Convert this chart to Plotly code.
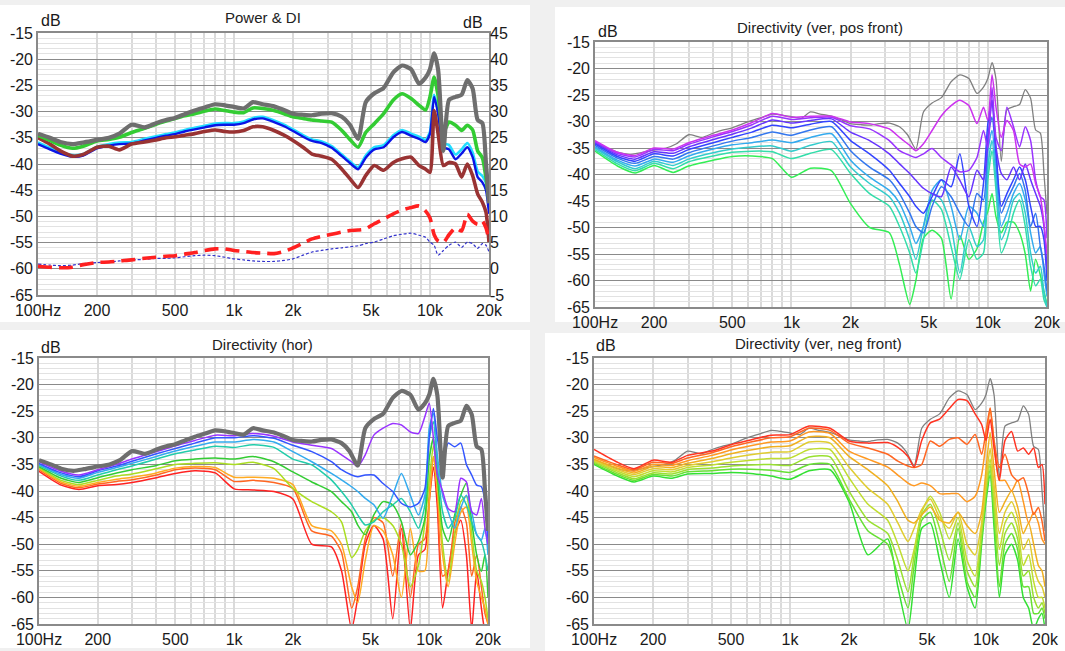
import math
import plotly.graph_objects as go

# ---------------- data ----------------
# frequency grid for Power & DI panel (Hz)
F = [100, 115, 130, 150, 170, 200, 230, 260, 300, 350, 400, 450, 500, 560, 630, 710, 800, 900,
     1000, 1120, 1250, 1400, 1600, 1800, 2000, 2250, 2500, 2800, 3150, 3550, 3900, 4300, 4700,
     5200, 5800, 6500, 7200, 8000, 8800, 9500, 10000, 10500, 11000, 11700, 12500, 13500, 14500,
     15500, 16500, 17500, 18500, 19300, 20000]

ON = [-34.2, -35.0, -35.8, -36.2, -35.9, -35.4, -35.0, -34.2, -32.5, -33.0, -32.2, -31.6, -31.2, -30.5,
      -29.8, -29.2, -28.6, -28.8, -29.1, -29.4, -28.2, -28.6, -29.0, -29.7, -30.4, -30.6, -30.7, -30.4,
      -30.3, -31.0, -32.5, -35.2, -28.2, -26.5, -25.5, -22.5, -21.2, -21.9, -24.7, -23.5, -21.9, -18.9,
      -22.0, -37.5, -27.8, -27.2, -26.8, -24.0, -25.6, -31.6, -32.2, -39.8, -47.5]
LW = [-34.5, -35.5, -36.4, -37.0, -36.6, -35.6, -35.3, -34.9, -34.0, -33.2, -32.4, -31.8, -31.3, -30.8,
      -30.4, -29.9, -29.5, -29.8, -30.1, -30.2, -29.3, -29.4, -29.8, -30.4, -31.0, -31.3, -31.6, -31.8,
      -32.0, -33.6, -35.3, -36.8, -34.0, -32.3, -30.4, -27.8, -26.6, -27.5, -28.8, -29.7, -27.2, -23.4,
      -27.0, -34.0, -32.0, -32.6, -33.6, -32.6, -33.5, -37.5, -38.8, -42.6, -47.0]
ER = [-36.2, -37.2, -38.0, -38.6, -38.4, -37.0, -36.5, -36.2, -36.1, -35.5, -35.0, -34.6, -34.3, -33.8,
      -33.4, -33.0, -32.6, -32.5, -32.5, -32.2, -31.5, -31.3, -32.0, -32.8, -33.7, -34.8, -35.6, -36.0,
      -36.9, -38.5, -39.8, -41.0, -38.8, -37.2, -36.8, -34.9, -33.9, -34.6, -35.2, -35.8, -34.2, -27.2,
      -30.4, -36.8, -37.2, -39.1, -38.0, -36.8, -38.7, -42.5, -43.5, -45.0, -49.5]
PIR = [-35.9, -36.9, -37.7, -38.3, -38.1, -36.7, -36.2, -35.9, -35.8, -35.2, -34.7, -34.3, -34.0, -33.5,
       -33.1, -32.7, -32.3, -32.2, -32.2, -31.9, -31.2, -31.0, -31.7, -32.5, -33.4, -34.5, -35.3, -35.7,
       -36.6, -38.2, -39.5, -40.6, -38.4, -36.8, -36.4, -34.5, -33.5, -34.2, -34.8, -35.4, -33.8, -26.8,
       -29.9, -36.0, -36.4, -38.2, -37.2, -36.0, -37.8, -41.4, -42.3, -43.6, -46.0]
SP = [-35.0, -36.2, -37.5, -38.5, -38.2, -36.8, -36.6, -37.3, -36.2, -35.8, -35.4, -35.0, -34.8, -34.5,
      -34.2, -33.8, -33.5, -33.8, -33.9, -33.6, -32.9, -32.9, -33.6, -34.5, -35.5, -36.8, -38.1, -38.5,
      -39.1, -41.0, -42.8, -44.5, -42.2, -40.3, -41.2, -39.7, -39.0, -38.7, -40.3, -41.0, -41.6, -29.8,
      -34.2, -40.3, -39.7, -40.0, -42.5, -40.0, -42.2, -45.7, -47.3, -49.2, -54.9]
DI = [0.5, 0.3, 0.2, 0.3, 0.8, 1.2, 1.3, 1.5, 1.7, 2.0, 2.2, 2.4, 2.5, 2.8, 3.1, 3.5, 3.8, 3.8, 3.5, 3.3,
      3.1, 3.0, 2.9, 3.3, 4.0, 4.9, 5.7, 6.2, 6.6, 7.0, 7.3, 7.4, 7.6, 8.6, 9.5, 10.5, 11.2, 11.7, 12.0,
      11.0, 9.7, 6.5, 5.3, 5.0, 6.5, 7.8, 7.2, 10.4, 9.1, 8.5, 9.1, 7.8, 5.5]
ERDI = [0.9, 0.7, 0.6, 0.7, 1.0, 1.2, 1.3, 1.5, 1.7, 1.8, 2.0, 2.0, 2.1, 2.3, 2.5, 2.6, 2.5, 2.2, 1.9,
        1.7, 1.5, 1.4, 1.4, 1.6, 1.9, 2.6, 3.2, 3.5, 3.8, 4.0, 4.2, 4.4, 4.8, 5.1, 5.7, 6.3, 6.6, 6.8,
        6.4, 6.0, 5.1, 4.5, 2.6, 3.5, 4.5, 5.1, 4.1, 5.1, 4.8, 3.9, 4.8, 4.5, 3.2]

# frequency grid for directivity panels (Hz)
F2 = [100, 130, 160, 200, 250, 300, 400, 500, 630, 800, 1000, 1250, 1600, 2000, 2500, 3150, 3550, 4000,
      4300, 4700, 5200, 5800, 6500, 7200, 8000, 8800, 9500, 10000, 10500, 11000, 11700, 12500, 13500,
      14500, 15500, 16500, 17500, 18500, 19300, 20000]

ANGLES = ["10°", "20°", "30°", "40°", "50°", "60°", "70°", "80°", "90°"]

HOR = [
    [-34.5, -36.3, -37.0, -36.0, -35.0, -34.0, -32.6, -31.5, -30.5, -29.5, -29.6, -29.2, -29.7,
     -30.8, -31.4, -32.0, -33.2, -34.5, -35.4, -33.2, -29.5, -28.2, -27.3, -27.6, -28.9, -29.2, -26.0,
     -23.5, -30.0, -37.0, -40.0, -43.3, -43.9, -37.6, -38.3, -43.9, -44.5, -41.4, -47.0, -50.0],
    [-34.8, -36.6, -37.3, -36.2, -35.3, -34.4, -33.0, -32.0, -31.0, -30.0, -30.0, -29.6, -30.1,
     -31.4, -32.6, -34.5, -36.0, -37.0, -37.3, -37.0, -37.0, -38.6, -40.1, -42.3, -43.0, -42.3, -39.5,
     -30.0, -24.5, -30.0, -35.0, -31.0, -31.7, -31.0, -35.0, -37.0, -38.9, -39.2, -42.0, -50.0],
    [-35.0, -36.9, -37.6, -36.5, -35.6, -34.8, -33.5, -32.5, -31.6, -30.8, -30.8, -30.3, -30.8,
     -32.6, -34.5, -36.7, -37.9, -39.2, -40.1, -41.4, -42.6, -45.1, -40.8, -36.7, -40.8, -44.5, -40.8,
     -28.2, -25.4, -33.2, -40.8, -43.9, -47.0, -43.2, -40.8, -43.9, -48.2, -49.2, -47.0, -52.0],
    [-35.2, -37.2, -38.0, -37.0, -36.0, -35.3, -34.0, -33.0, -32.3, -31.6, -31.8, -31.3, -31.8,
     -34.0, -35.1, -37.9, -40.1, -42.6, -44.5, -46.4, -45.8, -43.9, -42.6, -41.4, -43.9, -47.0, -42.6,
     -30.1, -27.0, -35.1, -43.9, -47.0, -45.1, -40.8, -42.6, -45.8, -48.2, -49.5, -52.0, -55.0],
    [-35.4, -37.6, -38.4, -37.5, -36.6, -36.0, -35.2, -34.3, -34.0, -33.8, -34.0, -33.5, -34.5,
     -36.4, -38.3, -40.1, -42.0, -43.9, -46.4, -48.2, -44.5, -42.0, -42.6, -45.8, -52.0, -49.5, -45.1,
     -33.9, -30.1, -37.0, -47.0, -49.5, -44.5, -40.8, -38.5, -45.8, -52.0, -55.1, -52.0, -60.0],
    [-35.6, -38.0, -38.8, -38.0, -37.2, -36.8, -35.8, -35.0, -34.8, -34.7, -35.0, -34.6, -35.8,
     -39.5, -42.0, -43.9, -45.8, -52.5, -51.0, -47.5, -45.5, -45.0, -46.5, -50.0, -58.0, -54.0, -46.0,
     -38.0, -31.5, -38.0, -50.0, -57.0, -48.0, -42.0, -41.0, -48.0, -55.0, -57.0, -60.0, -64.0],
    [-35.8, -38.3, -39.1, -38.4, -37.8, -37.4, -36.6, -35.7, -35.4, -35.6, -37.4, -37.4, -37.6,
     -38.8, -46.5, -47.5, -50.0, -58.0, -61.0, -53.0, -46.5, -47.5, -52.0, -60.0, -47.0, -55.0, -55.0,
     -42.0, -33.5, -40.0, -52.0, -58.0, -50.0, -44.0, -43.0, -50.0, -57.0, -60.0, -62.0, -65.0],
    [-36.0, -38.6, -39.4, -38.7, -38.2, -37.9, -37.0, -36.0, -35.7, -36.0, -38.2, -38.0, -38.4,
     -39.5, -47.5, -48.5, -51.5, -62.0, -58.0, -49.0, -45.0, -46.0, -56.0, -46.0, -60.0, -50.0, -49.0,
     -41.0, -33.5, -40.0, -56.0, -55.0, -46.0, -43.0, -46.0, -56.0, -52.0, -58.0, -63.0, -65.0],
    [-36.3, -38.9, -39.7, -39.0, -38.8, -38.4, -37.5, -36.7, -36.2, -36.6, -39.6, -39.8, -40.1,
     -41.5, -50.0, -50.5, -55.0, -66.0, -60.0, -50.0, -46.5, -49.0, -64.0, -47.0, -66.0, -52.0, -51.0,
     -42.0, -35.5, -43.0, -62.0, -55.0, -48.0, -45.5, -52.0, -66.0, -55.0, -62.0, -66.0, -66.0],
]

VPOS = [
    [-33.6, -35.8, -36.4, -35.0, -35.2, -34.0, -32.6, -31.6, -30.2, -28.5, -29.2, -29.0, -29.0,
     -30.1, -30.4, -31.4, -33.0, -34.5, -35.5, -34.2, -31.7, -28.9, -27.0, -26.0, -27.0, -30.4, -27.3,
     -29.8, -21.2, -27.3, -33.0, -29.8, -31.7, -38.0, -38.6, -38.0, -41.7, -44.2, -49.2, -55.0],
    [-33.8, -36.0, -36.7, -35.3, -35.5, -34.3, -32.9, -31.9, -30.6, -29.0, -29.6, -29.3, -29.2,
     -30.8, -31.4, -33.6, -35.5, -36.4, -36.8, -36.1, -35.1, -36.8, -38.2, -39.5, -39.2, -36.8, -31.7,
     -35.0, -23.6, -33.0, -35.5, -27.3, -31.0, -34.8, -31.0, -33.6, -41.0, -44.2, -44.8, -52.0],
    [-34.0, -36.3, -37.1, -35.7, -36.0, -34.8, -33.4, -32.4, -31.2, -29.7, -30.3, -29.8, -29.5,
     -32.0, -33.6, -36.1, -38.0, -39.8, -41.1, -42.6, -43.6, -44.2, -38.6, -41.1, -44.2, -39.2, -41.0,
     -33.6, -26.0, -34.8, -39.8, -41.0, -38.6, -41.0, -38.0, -41.0, -43.6, -46.0, -49.8, -58.0],
    [-34.2, -36.6, -37.5, -36.1, -36.5, -35.3, -34.0, -33.0, -32.0, -30.7, -31.2, -30.5, -30.0,
     -33.6, -36.1, -39.2, -41.7, -44.2, -46.0, -47.3, -44.2, -41.0, -42.3, -36.1, -46.0, -49.8, -41.7,
     -30.4, -26.0, -35.5, -46.0, -43.6, -41.0, -38.6, -41.0, -46.0, -49.8, -49.8, -52.3, -60.0],
    [-34.5, -36.9, -37.9, -36.6, -37.1, -35.9, -34.6, -33.7, -33.0, -32.0, -32.6, -31.6, -31.0,
     -35.5, -38.6, -41.0, -43.6, -47.3, -49.8, -51.0, -46.0, -42.3, -44.2, -47.3, -49.8, -43.6, -44.8,
     -33.0, -29.2, -36.1, -47.3, -44.8, -42.3, -39.8, -43.0, -49.8, -47.3, -53.6, -57.3, -62.0],
    [-34.8, -37.3, -38.4, -37.1, -37.7, -36.5, -35.2, -34.4, -34.0, -33.5, -34.0, -33.0, -32.3,
     -37.3, -40.5, -43.0, -45.4, -49.8, -53.0, -49.8, -43.0, -41.0, -46.0, -52.3, -46.0, -47.3, -49.8,
     -35.5, -31.7, -38.6, -49.8, -47.3, -43.6, -41.7, -44.8, -51.0, -54.8, -53.6, -58.6, -63.0],
    [-35.0, -37.6, -38.9, -37.5, -38.3, -37.1, -35.9, -35.2, -34.8, -34.6, -35.6, -34.5, -33.8,
     -38.6, -41.7, -44.2, -47.3, -52.3, -56.0, -49.8, -43.6, -44.8, -49.8, -58.6, -49.8, -53.6, -52.3,
     -38.6, -33.6, -41.0, -52.3, -49.8, -44.8, -43.6, -47.3, -54.8, -58.6, -57.3, -62.3, -65.0],
    [-35.3, -38.0, -39.3, -37.9, -38.9, -37.6, -36.5, -35.8, -35.6, -35.7, -37.0, -36.0, -35.3,
     -39.8, -43.6, -46.0, -49.8, -54.8, -58.6, -52.3, -44.8, -46.6, -53.6, -59.8, -52.3, -56.0, -54.8,
     -41.0, -35.5, -43.0, -54.8, -52.3, -47.3, -44.8, -49.8, -57.3, -61.0, -59.8, -63.6, -65.0],
    [-35.6, -38.4, -39.7, -38.3, -39.6, -38.4, -37.3, -36.6, -36.5, -37.0, -40.5, -38.8, -39.3,
     -45.5, -50.0, -51.0, -57.0, -64.5, -60.0, -52.0, -50.5, -52.0, -63.5, -51.5, -56.0, -54.0, -49.0,
     -47.0, -43.6, -48.0, -51.0, -49.0, -49.0, -51.0, -55.0, -62.0, -56.0, -59.0, -62.0, -64.5],
]

VNEG = [
    [-32.2, -34.5, -35.8, -34.2, -34.6, -33.3, -32.5, -31.3, -30.4, -29.5, -29.4, -27.8, -28.2,
     -30.6, -31.0, -30.9, -31.8, -33.5, -35.5, -30.5, -27.2, -26.5, -24.5, -22.8, -23.0, -25.5, -27.5,
     -30.5, -26.5, -32.0, -38.0, -30.5, -28.8, -32.5, -31.9, -33.1, -31.9, -35.6, -35.0, -42.5],
    [-33.4, -35.0, -36.0, -34.6, -34.8, -33.8, -32.8, -31.7, -30.8, -30.0, -29.8, -28.2, -28.6,
     -31.0, -31.9, -33.1, -34.4, -35.3, -35.6, -35.0, -30.6, -31.6, -30.3, -30.0, -31.2, -29.4, -33.1,
     -28.8, -24.4, -30.6, -35.6, -33.1, -36.9, -38.1, -37.5, -40.6, -44.4, -43.1, -45.6, -49.4],
    [-33.7, -35.3, -36.3, -35.0, -35.2, -34.3, -33.3, -32.3, -31.5, -30.8, -30.6, -28.9, -29.2,
     -32.5, -34.0, -35.5, -37.0, -38.5, -39.0, -38.5, -39.0, -40.5, -40.5, -40.5, -42.0, -41.0, -37.0,
     -31.0, -24.5, -31.0, -38.0, -38.0, -40.0, -38.0, -42.0, -46.0, -44.0, -46.0, -49.0, -50.0],
    [-34.0, -35.6, -36.6, -35.4, -35.6, -34.8, -33.9, -33.0, -32.3, -31.7, -31.5, -29.8, -30.0,
     -33.5, -36.0, -39.0, -42.0, -45.5, -46.0, -44.5, -43.0, -45.5, -46.0, -44.0, -46.5, -48.0, -44.0,
     -36.0, -29.0, -36.0, -44.0, -42.0, -40.0, -43.0, -48.0, -46.0, -50.0, -54.0, -55.0, -58.0],
    [-34.2, -35.9, -36.9, -35.8, -36.0, -35.2, -34.5, -33.8, -33.2, -32.7, -32.6, -30.8, -31.0,
     -35.5, -39.5, -42.5, -46.0, -49.5, -47.0, -43.5, -41.5, -45.0, -47.0, -44.0, -50.0, -52.0, -46.0,
     -38.0, -32.0, -39.0, -48.0, -44.0, -42.0, -45.0, -51.0, -49.0, -54.0, -57.0, -58.0, -60.0],
    [-34.4, -36.2, -37.3, -36.2, -36.4, -35.6, -35.1, -34.6, -34.2, -33.9, -33.8, -32.2, -32.2,
     -37.5, -42.5, -45.5, -50.0, -55.0, -51.0, -44.0, -41.0, -44.0, -49.0, -45.0, -53.0, -56.0, -47.0,
     -39.0, -34.0, -41.0, -51.0, -46.0, -44.0, -47.0, -54.0, -52.0, -57.0, -60.0, -60.0, -62.0],
    [-34.6, -36.5, -37.7, -36.6, -36.8, -36.0, -35.7, -35.3, -35.1, -35.0, -35.2, -33.6, -33.6,
     -40.0, -45.5, -48.0, -53.0, -59.0, -52.0, -44.5, -42.5, -47.0, -53.0, -46.0, -55.0, -58.0, -48.0,
     -40.0, -35.0, -43.0, -54.0, -48.0, -46.0, -49.0, -56.0, -55.0, -60.0, -62.0, -61.0, -63.0],
    [-34.8, -36.8, -38.0, -36.9, -37.2, -36.4, -36.2, -35.9, -35.9, -36.1, -36.5, -35.0, -35.0,
     -41.5, -47.5, -50.0, -56.0, -62.0, -54.0, -45.5, -44.0, -50.0, -57.0, -47.0, -57.0, -60.0, -49.0,
     -41.0, -36.0, -45.0, -58.0, -50.0, -48.0, -51.0, -58.0, -58.0, -63.0, -63.0, -62.0, -64.0],
    [-35.0, -37.1, -38.3, -37.2, -37.6, -36.8, -36.7, -36.5, -36.7, -37.2, -37.8, -36.2, -36.0,
     -42.0, -52.0, -49.0, -58.0, -66.0, -57.0, -47.0, -46.0, -53.0, -60.0, -49.0, -58.0, -62.0, -50.0,
     -42.0, -37.0, -47.0, -60.0, -52.0, -50.0, -53.0, -60.0, -62.0, -66.0, -64.0, -63.0, -66.0],
]

HOR_COLORS = ["#9933ff", "#3355ff", "#33aaee", "#22ccaa", "#33cc33", "#aadd22", "#ffaa22", "#ff6622", "#ff2222"]
VPOS_COLORS = ["#cc33ee", "#9933ff", "#6633ff", "#3344ff", "#3377ee", "#33aaee", "#33cccc", "#33ddaa", "#33ee55"]
VNEG_COLORS = ["#ff3322", "#ff6622", "#ff9922", "#f0b020", "#e0cc30", "#c0dd30", "#99e030", "#66e033", "#33e033"]

X_TICKS = [100, 200, 500, 1000, 2000, 5000, 10000, 20000]
X_TICKTEXT = ["100Hz", "200", "500", "1k", "2k", "5k", "10k", "20k"]
X_MINOR = [300, 400, 600, 700, 800, 900, 3000, 4000, 6000, 7000, 8000, 9000]
X_DECADES = [1000, 10000]
Y_TICKS = [-15, -20, -25, -30, -35, -40, -45, -50, -55, -60, -65]
Y2_TICKS = [45, 40, 35, 30, 25, 20, 15, 10, 5, 0, -5]

TITLES = ["Power & DI", "Directivity (ver, pos front)", "Directivity (hor)", "Directivity (ver, neg front)"]

# ---------------- layout geometry (pixels) ----------------
W, H = 1065, 651
def px(x): return x / W
def py(y): return 1 - y / H

# plot areas: (left, top, right, bottom)
AREAS = [(38, 33, 489, 295), (595, 42, 1047, 307), (39, 358, 488, 624), (594, 358, 1045, 624)]
PANELS = [(0, 5, 530, 322), (555, 7, 1065, 322), (0, 330, 530, 648), (545, 333, 1065, 651)]
TITLE_POS = [(263, 18), (820, 27), (262, 344), (818, 343)]
DB_POS = [(51, 20), (608, 32), (51, 347), (606, 346)]

FONT = "Liberation Sans, Arial, sans-serif"
fig = go.Figure()

def add(xs, ys, color, width, n, dash=None, yaxis=None, name=""):
    ax = "" if n == 1 else str(n)
    fig.add_trace(go.Scatter(
        x=xs, y=ys, mode="lines", name=name,
        line=dict(color=color, width=width, dash=dash, shape="spline", smoothing=0.6),
        xaxis="x" + ax, yaxis=yaxis if yaxis else "y" + ax,
        hoverinfo="skip", showlegend=False))

# Panel 1: Power & DI
add(F, PIR, "#22ddff", 2.6, 1, name="PIR")
add(F, ER, "#0a14e6", 2.4, 1, name="ER")
add(F, SP, "#993333", 3.6, 1, name="SP")
add(F, LW, "#33cc33", 3.6, 1, name="LW")
add(F, ON, "#6e6e6e", 4.2, 1, name="On axis")
add(F, ERDI, "#3333cc", 1.2, 1, dash="3px,2px", yaxis="y5", name="ERDI")
add(F, DI, "#ff2020", 3.6, 1, dash="14px,7px", yaxis="y5", name="DI")

# Panel 2: vertical, positive front
add(F, ON, "#808080", 1.3, 2, name="On axis")
for ys, c, a in reversed(list(zip(VPOS, VPOS_COLORS, ANGLES))):
    add(F2, ys, c, 1.5, 2, name=a)

# Panel 3: horizontal
for ys, c, a in reversed(list(zip(HOR, HOR_COLORS, ANGLES))):
    add(F2, ys, c, 1.5, 3, name=a)
add(F, ON, "#6e6e6e", 4.2, 3, name="On axis")

# Panel 4: vertical, negative front
add(F, ON, "#808080", 1.3, 4, name="On axis")
for ys, c, a in reversed(list(zip(VNEG, VNEG_COLORS, ANGLES))):
    add(F2, ys, c, 1.5, 4, name=a)

layout = dict(
    width=W, height=H, autosize=False,
    margin=dict(l=0, r=0, t=0, b=0, pad=0),
    paper_bgcolor="#f0f0f0", plot_bgcolor="#ffffff",
    font=dict(family=FONT, size=16, color="#1a1a1a"),
    shapes=[], annotations=[],
)

for i, (l, t, r, b) in enumerate(AREAS):
    n = i + 1
    ax = "" if n == 1 else str(n)
    layout["xaxis" + ax] = dict(
        type="log", range=[math.log10(100), math.log10(20000)],
        domain=[px(l), px(r)], anchor="y" + ax, automargin=False,
        tickmode="array", tickvals=X_TICKS, ticktext=X_TICKTEXT,
        showgrid=True, gridcolor="#dadada", gridwidth=1.6,
        minor=dict(tickmode="array", tickvals=X_MINOR, showgrid=True, gridcolor="#dadada", gridwidth=1.6),
        showline=True, linecolor="#8a8a8a", linewidth=1.6, mirror=True,
        ticks="", zeroline=False, fixedrange=True,
        tickfont=dict(size=16, color="#1a1a1a"),
    )
    layout["yaxis" + ax] = dict(
        range=[-65, -15], domain=[py(b), py(t)], anchor="x" + ax, automargin=False,
        tickmode="array", tickvals=Y_TICKS, ticktext=[str(v) for v in Y_TICKS],
        showgrid=True, gridcolor="#8a8a8a", gridwidth=1.2,
        minor=dict(dtick=1, tick0=-15, showgrid=True, gridcolor="#e2e2e2", gridwidth=1),
        showline=True, linecolor="#8a8a8a", linewidth=1.6, mirror=True,
        ticks="", zeroline=False, fixedrange=True,
        tickfont=dict(size=16, color="#1a1a1a"),
    )
    # decade grid lines (darker)
    for d in X_DECADES:
        layout["shapes"].append(dict(
            type="line", xref="x" + ax, yref="y" + ax + " domain",
            x0=d, x1=d, y0=0, y1=1, layer="below",
            line=dict(color="#8a8a8a", width=1.3)))
    # white panel backgrounds
    pl, pt, pr, pb = PANELS[i]
    layout["shapes"].append(dict(
        type="rect", xref="paper", yref="paper",
        x0=px(pl), x1=px(pr), y0=py(pb), y1=py(pt), layer="below",
        fillcolor="#ffffff", line=dict(width=0)))
    tx, ty = TITLE_POS[i]
    layout["annotations"].append(dict(
        text=TITLES[i], xref="paper", yref="paper", x=px(tx), y=py(ty),
        showarrow=False, xanchor="center", yanchor="middle",
        font=dict(size=15, color="#222222")))
    dx, dy = DB_POS[i]
    layout["annotations"].append(dict(
        text="dB", xref="paper", yref="paper", x=px(dx), y=py(dy),
        showarrow=False, xanchor="center", yanchor="middle",
        font=dict(size=16, color="#1a1a1a")))

# right axis for DI in Power & DI
layout["yaxis5"] = dict(
    range=[-5, 45], overlaying="y", side="right", anchor="x", automargin=False,
    tickmode="array", tickvals=Y2_TICKS, ticktext=[str(v) for v in Y2_TICKS],
    showgrid=False, zeroline=False, showline=False, ticks="", fixedrange=True,
    tickfont=dict(size=16, color="#1a1a1a"),
)
layout["annotations"].append(dict(
    text="dB", xref="paper", yref="paper", x=px(473), y=py(22),
    showarrow=False, xanchor="center", yanchor="middle",
    font=dict(size=16, color="#1a1a1a")))

fig.update_layout(**layout)
fig.write_html("out.html", config={"displayModeBar": False},
               post_script="document.body.style.margin='0px';document.body.style.overflow='hidden';")
